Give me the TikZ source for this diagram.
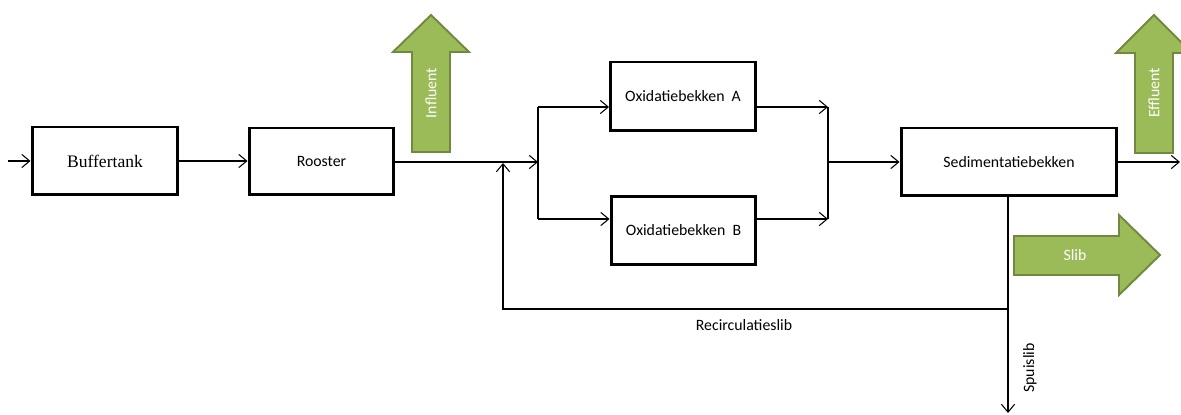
\documentclass[tikz,border=0pt]{standalone}
\usepackage{fontspec}
\setmainfont{Carlito}
\newfontfamily\serifbox{Liberation Serif}
\usetikzlibrary{arrows.meta}
\definecolor{olivefill}{HTML}{9BBB59}
\definecolor{olivedraw}{HTML}{71893F}
\tikzset{
  box/.style={draw=black, line width=1.7pt, fill=white, inner sep=0pt, font=\fontsize{9}{11}\selectfont},
  arr/.style={line width=0.6pt, -{Straight Barb[length=4.5pt,width=7.5pt,line width=0.6pt]}},
  conn/.style={line width=0.6pt},
  greenarrow/.style={fill=olivefill, draw=olivedraw, line width=1.1pt, line join=miter},
  greentext/.style={text=white, font=\fontsize{9}{11}\selectfont},
  lbl/.style={font=\fontsize{9}{11}\selectfont}
}
\begin{document}
\begin{tikzpicture}[x=0.02cm, y=-0.02cm]
\useasboundingbox (0,0) rectangle (1181,415);
\clip (0,0) rectangle (1181,415);

% green arrows
\path[greenarrow] (412,152) -- (412,52) -- (393,52) -- (431,15) -- (469,52) -- (450,52) -- (450,152) -- cycle;
\node[greentext, rotate=90] (influent) at (431,93) {Influent};
\path[greenarrow] (1135,153) -- (1135,53) -- (1116,53) -- (1154,15) -- (1192,53) -- (1173,53) -- (1173,153) -- cycle;
\node[greentext, rotate=90] (effluent) at (1154,93) {Effluent};
\path[greenarrow] (1014,236) -- (1119,236) -- (1119,215) -- (1160,255) -- (1119,295) -- (1119,275) -- (1014,275) -- cycle;
\node[greentext] (slib) at (1075,255) {Slib};

% boxes
\node[box, minimum width=2.92cm, minimum height=1.36cm, font=\serifbox\fontsize{10}{12}\selectfont] (buf) at (105,161) {Buffertank};
\node[box, minimum width=2.90cm, minimum height=1.34cm] (roo) at (321.5,161.5) {Rooster};
\node[box, minimum width=2.90cm, minimum height=1.38cm] (oxA) at (683,96.5) {Oxidatiebekken\ \ A};
\node[box, minimum width=2.90cm, minimum height=1.36cm] (oxB) at (683.5,230.5) {Oxidatiebekken\ \ B};
\node[box, minimum width=4.32cm, minimum height=1.36cm] (sed) at (1009,162) {Sedimentatiebekken};

% coordinates
\coordinate (in) at (8,161);
\coordinate (split) at (538,162);
\coordinate (sa) at (538,107);
\coordinate (sb) at (538,219);
\coordinate (ma) at (828,107);
\coordinate (mb) at (828,219);
\coordinate (mc) at (828,162);
\coordinate (out) at (1180,162);
\coordinate (rc) at (1008,309);
\coordinate (rcl) at (503,309);
\coordinate (rj) at (503,163);
\coordinate (spui) at (1008,413);

% connectors
\draw[arr] (in) -- (buf.west |- in);
\draw[arr] (buf.east) -- (buf.east -| roo.west);
\draw[arr] (roo.east |- split) -- (split);
\draw[conn] (sa) -- (sb);
\draw[arr] (sa) -- (sa -| oxA.west);
\draw[arr] (sb) -- (sb -| oxB.west);
\draw[arr] (oxA.east |- ma) -- (ma);
\draw[arr] (oxB.east |- mb) -- (mb);
\draw[conn] (ma) -- (mb);
\draw[arr] (mc) -- (mc -| sed.west);
\draw[arr] (sed.east |- out) -- (out);
\draw[arr] (sed.south -| spui) -- (spui);
\draw[arr] (rc) -- (rcl) -- (rj);

% labels
\node[lbl] (reclbl) at (744,325) {Recirculatieslib};
\node[lbl, rotate=90] (spuilbl) at (1030,368) {Spuislib};
\end{tikzpicture}
\end{document}
